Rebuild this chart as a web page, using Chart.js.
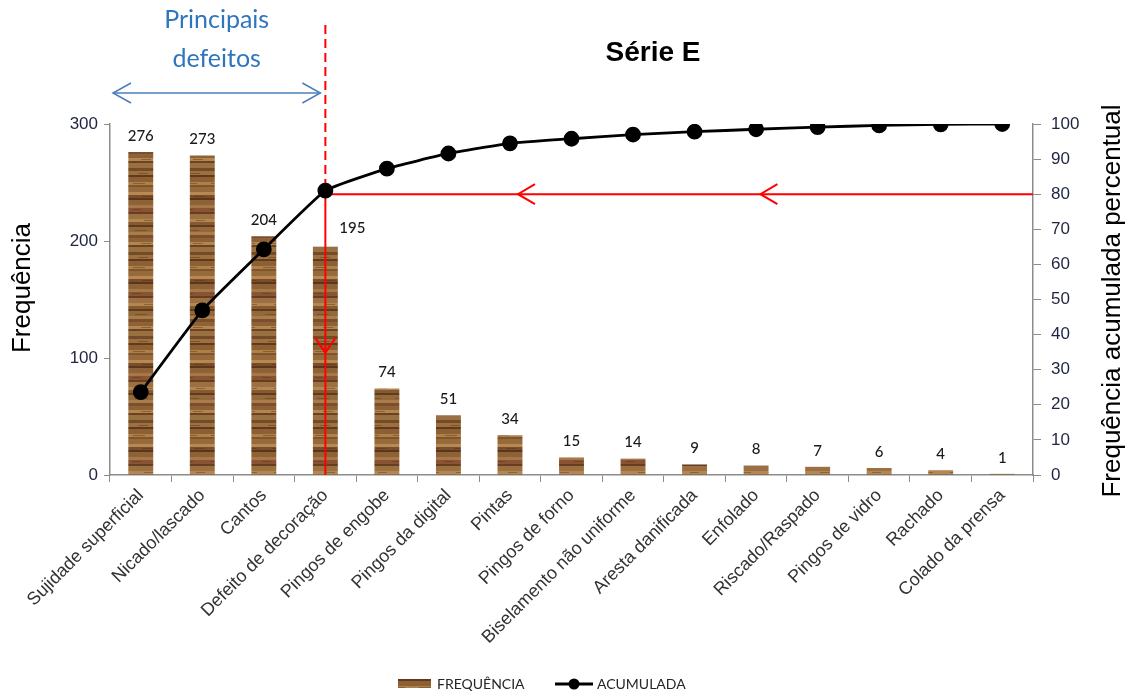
<!DOCTYPE html>
<html>
<head>
<meta charset="utf-8">
<script src="https://cdn.jsdelivr.net/npm/chart.js@4.4.1/dist/chart.umd.min.js"></script>
<style>
  html, body { margin: 0; padding: 0; background: #ffffff; }
  canvas { display: block; }
</style>
</head>
<body>
<canvas id="pareto" width="1137" height="697"></canvas>
<script>
// Defect categories, ordered by frequency (Pareto)
const categories = [
  'Sujidade superficial', 'Nicado/lascado', 'Cantos', 'Defeito de decoração',
  'Pingos de engobe', 'Pingos da digital', 'Pintas', 'Pingos de forno',
  'Biselamento não uniforme', 'Aresta danificada', 'Enfolado', 'Riscado/Raspado',
  'Pingos de vidro', 'Rachado', 'Colado da prensa'
];
// Number of occurrences per defect
const frequencia = [276, 273, 204, 195, 74, 51, 34, 15, 14, 9, 8, 7, 6, 4, 1];
// Cumulative percentage
const acumulada = [23.6, 46.9, 64.3, 81.0, 87.3, 91.6, 94.5, 95.8, 97.0, 97.8, 98.5, 99.1, 99.6, 99.9, 100];
// Axis ticks
const leftTicks = [0, 100, 200, 300];
const rightTicks = [0, 10, 20, 30, 40, 50, 60, 70, 80, 90, 100];
// Pareto cut-off: the main defects end at this category, at this cumulative %
const cutoffIndex = 3;
const cutoffPercent = 80;

const AXIS_GREY = '#8c8c8c';
const TICK_TEXT = '#1f2440';
const RED = '#ff0000';
const BLUE = '#4a7ebb';

// Wood-grain fill for the bars
function woodPattern() {
  const c = document.createElement('canvas');
  c.width = 26; c.height = 84;
  const g = c.getContext('2d');
  g.fillStyle = '#8a5e33';
  g.fillRect(0, 0, 26, 84);
  const bands = [
    [0, 3, '#744b28'], [3, 4, '#9c703f'], [7, 2, '#62391c'], [9, 5, '#8d6033'],
    [14, 3, '#ae8149'], [17, 2, '#7f5530'], [19, 5, '#966a3b'], [24, 3, '#b88a52'],
    [27, 3, '#7a4d2c'], [30, 2, '#5a361a'], [32, 5, '#8e6236'], [37, 3, '#a47847'],
    [40, 4, '#8a5434'], [44, 2, '#653f20'], [46, 5, '#9c7042'], [51, 3, '#b3874f'],
    [54, 3, '#855a31'], [57, 2, '#5f3b1d'], [59, 5, '#93683a'], [64, 3, '#a97c49'],
    [67, 3, '#7b4f2e'], [70, 4, '#8f6236'], [74, 3, '#b38651'], [77, 2, '#6b4324'],
    [79, 5, '#99703f']
  ];
  bands.forEach(([y, h, col]) => { g.fillStyle = col; g.fillRect(0, y, 26, h); });
  // short darker streaks to break up the stripes
  const streaks = [[5, 8, 10], [15, 3, 12], [28, 12, 11], [41, 2, 9], [52, 14, 9], [62, 5, 12], [75, 11, 10]];
  g.fillStyle = 'rgba(80,44,20,0.4)';
  streaks.forEach(([y, x, w]) => g.fillRect(x, y, w, 1));
  return g.createPattern(c, 'repeat');
}
const wood = woodPattern();

function openArrow(ctx, tipX, tipY, dx, dy, spread, color, width) {
  // open "V" head; (dx, dy) points from the tip back along the shaft
  ctx.save();
  ctx.strokeStyle = color; ctx.lineWidth = width;
  const len = Math.hypot(dx, dy);
  const ux = dx / len, uy = dy / len;
  const px = -uy, py = ux;
  ctx.beginPath();
  ctx.moveTo(tipX + ux * len + px * spread, tipY + uy * len + py * spread);
  ctx.lineTo(tipX, tipY);
  ctx.lineTo(tipX + ux * len - px * spread, tipY + uy * len - py * spread);
  ctx.stroke();
  ctx.restore();
}

// Red Pareto guide lines, drawn above the bars but under the cumulative line
const cutoffGuides = {
  id: 'cutoffGuides',
  afterDatasetDraw(chart, args) {
    if (args.meta.type !== 'bar') return;
    const { ctx, chartArea, scales } = chart;
    const x = scales.x.getPixelForValue(cutoffIndex);
    const y80 = scales.y1.getPixelForValue(cutoffPercent);
    ctx.save();
    ctx.strokeStyle = RED;
    ctx.lineWidth = 2;
    // dashed part above the cut-off point
    ctx.setLineDash([9, 5]);
    ctx.beginPath();
    ctx.moveTo(x, 25);
    ctx.lineTo(x, y80);
    ctx.stroke();
    ctx.setLineDash([]);
    // solid drop to the category axis
    ctx.beginPath();
    ctx.moveTo(x, y80);
    ctx.lineTo(x, chartArea.bottom);
    ctx.stroke();
    // horizontal line at 80 %
    ctx.beginPath();
    ctx.moveTo(x, y80);
    ctx.lineTo(chartArea.right, y80);
    ctx.stroke();
    ctx.restore();
    const tipY = y80 + 0.565 * (chartArea.bottom - y80);
    openArrow(ctx, x, tipY, 0, -15, 10, RED, 2);
    openArrow(ctx, scales.x.getPixelForValue(6.13), y80, 17, 0, 10, RED, 2);
    openArrow(ctx, scales.x.getPixelForValue(10.07), y80, 17, 0, 10, RED, 2);
  }
};

// Texts and marks around the plot: titles, value labels, legend, "Principais defeitos"
const decorations = {
  id: 'decorations',
  afterDraw(chart) {
    const { ctx, chartArea, scales } = chart;
    ctx.save();

    // value labels over the bars
    const barMeta = chart.getDatasetMeta(1);
    ctx.font = '500 15px Lato, "Open Sans", sans-serif';
    ctx.fillStyle = '#1a1a1a';
    ctx.textAlign = 'center';
    ctx.textBaseline = 'middle';
    barMeta.data.forEach((bar, i) => {
      let lx = bar.x, ly = bar.y - 16;
      if (i === cutoffIndex) { lx = bar.x + 27; ly = bar.y - 19; }
      ctx.fillText(String(frequencia[i]), lx, ly);
    });

    // chart title
    ctx.font = 'bold 28px "Liberation Sans", Arial, sans-serif';
    ctx.fillStyle = '#000';
    ctx.fillText('Série E', 653, 53);

    // axis titles
    ctx.font = '26px "Liberation Sans", Arial, sans-serif';
    ctx.save();
    ctx.translate(23, 288);
    ctx.rotate(-Math.PI / 2);
    ctx.fillText('Frequência', 0, 0);
    ctx.restore();
    ctx.save();
    ctx.translate(1113, 301);
    ctx.rotate(-Math.PI / 2);
    ctx.fillText('Frequência acumulada percentual', 0, 0);
    ctx.restore();

    // "Principais defeitos" with its double arrow
    const xc = scales.x.getPixelForValue(cutoffIndex);
    const ya = chartArea.top - 31;
    const xl = chartArea.left + 3, xr = xc - 5;
    ctx.strokeStyle = BLUE; ctx.lineWidth = 1.5;
    ctx.beginPath(); ctx.moveTo(xl, ya); ctx.lineTo(xr, ya); ctx.stroke();
    openArrow(ctx, xl, ya, 18, 0, 10, BLUE, 1.5);
    openArrow(ctx, xr, ya, -18, 0, 10, BLUE, 1.5);
    ctx.font = '25px Lato, "Open Sans", sans-serif';
    ctx.fillStyle = '#2e75c0';
    ctx.fillText('Principais', (xl + xr) / 2, 20);
    ctx.fillText('defeitos', (xl + xr) / 2, 59);

    // legend
    ctx.font = '14px Lato, "Open Sans", sans-serif';
    ctx.textAlign = 'left';
    ctx.fillStyle = wood;
    ctx.fillRect(398, 679, 33, 9);
    ctx.fillStyle = '#262626';
    ctx.fillText('FREQUÊNCIA', 437, 684);
    ctx.strokeStyle = '#000'; ctx.lineWidth = 3;
    ctx.beginPath(); ctx.moveTo(555, 684); ctx.lineTo(593, 684); ctx.stroke();
    ctx.fillStyle = '#000';
    ctx.beginPath(); ctx.arc(574, 684, 5.5, 0, Math.PI * 2); ctx.fill();
    ctx.fillStyle = '#262626';
    ctx.fillText('ACUMULADA', 597, 684);

    ctx.restore();
  }
};

new Chart(document.getElementById('pareto'), {
  data: {
    labels: categories,
    datasets: [
      {
        type: 'line',
        label: 'ACUMULADA',
        data: acumulada,
        yAxisID: 'y1',
        order: 0,
        borderColor: '#000',
        borderWidth: 2.8,
        tension: 0.12,
        pointRadius: 6.5,
        pointBackgroundColor: '#000',
        pointBorderColor: '#000'
      },
      {
        type: 'bar',
        label: 'FREQUÊNCIA',
        data: frequencia,
        yAxisID: 'y',
        order: 1,
        backgroundColor: wood,
        borderWidth: 0,
        barPercentage: 0.405,
        categoryPercentage: 1
      }
    ]
  },
  options: {
    responsive: false,
    devicePixelRatio: 1,
    animation: false,
    layout: { padding: { top: 124, left: 0, right: 0, bottom: 0 } },
    plugins: { legend: { display: false }, title: { display: false }, tooltip: { enabled: false } },
    scales: {
      x: {
        offset: true,
        grid: { display: true, drawOnChartArea: false, drawTicks: true, tickLength: 7, color: AXIS_GREY, offset: true },
        border: { color: AXIS_GREY, width: 1.5 },
        ticks: {
          autoSkip: false, minRotation: 45, maxRotation: 45, padding: 3,
          color: '#333', font: { family: '"Liberation Sans", Arial, sans-serif', size: 18 }
        },
        afterFit(scale) { scale.height = 222; }
      },
      y: {
        position: 'left',
        min: 0, max: 300,
        afterBuildTicks(scale) { scale.ticks = leftTicks.map(v => ({ value: v })); },
        grid: { display: true, drawOnChartArea: false, drawTicks: true, tickLength: 6, color: AXIS_GREY },
        border: { color: AXIS_GREY, width: 1.5 },
        ticks: { padding: 6, color: TICK_TEXT, font: { family: '"Liberation Sans", Arial, sans-serif', size: 17 } },
        afterFit(scale) { scale.width = 110; }
      },
      y1: {
        position: 'right',
        min: 0, max: 100,
        afterBuildTicks(scale) { scale.ticks = rightTicks.map(v => ({ value: v })); },
        grid: { display: true, drawOnChartArea: false, drawTicks: true, tickLength: 8, color: AXIS_GREY },
        border: { color: AXIS_GREY, width: 1.5 },
        ticks: { padding: 10, color: TICK_TEXT, font: { family: '"Liberation Sans", Arial, sans-serif', size: 17 } },
        afterFit(scale) { scale.width = 104; }
      }
    }
  },
  plugins: [cutoffGuides, decorations]
});
</script>
</body>
</html>
